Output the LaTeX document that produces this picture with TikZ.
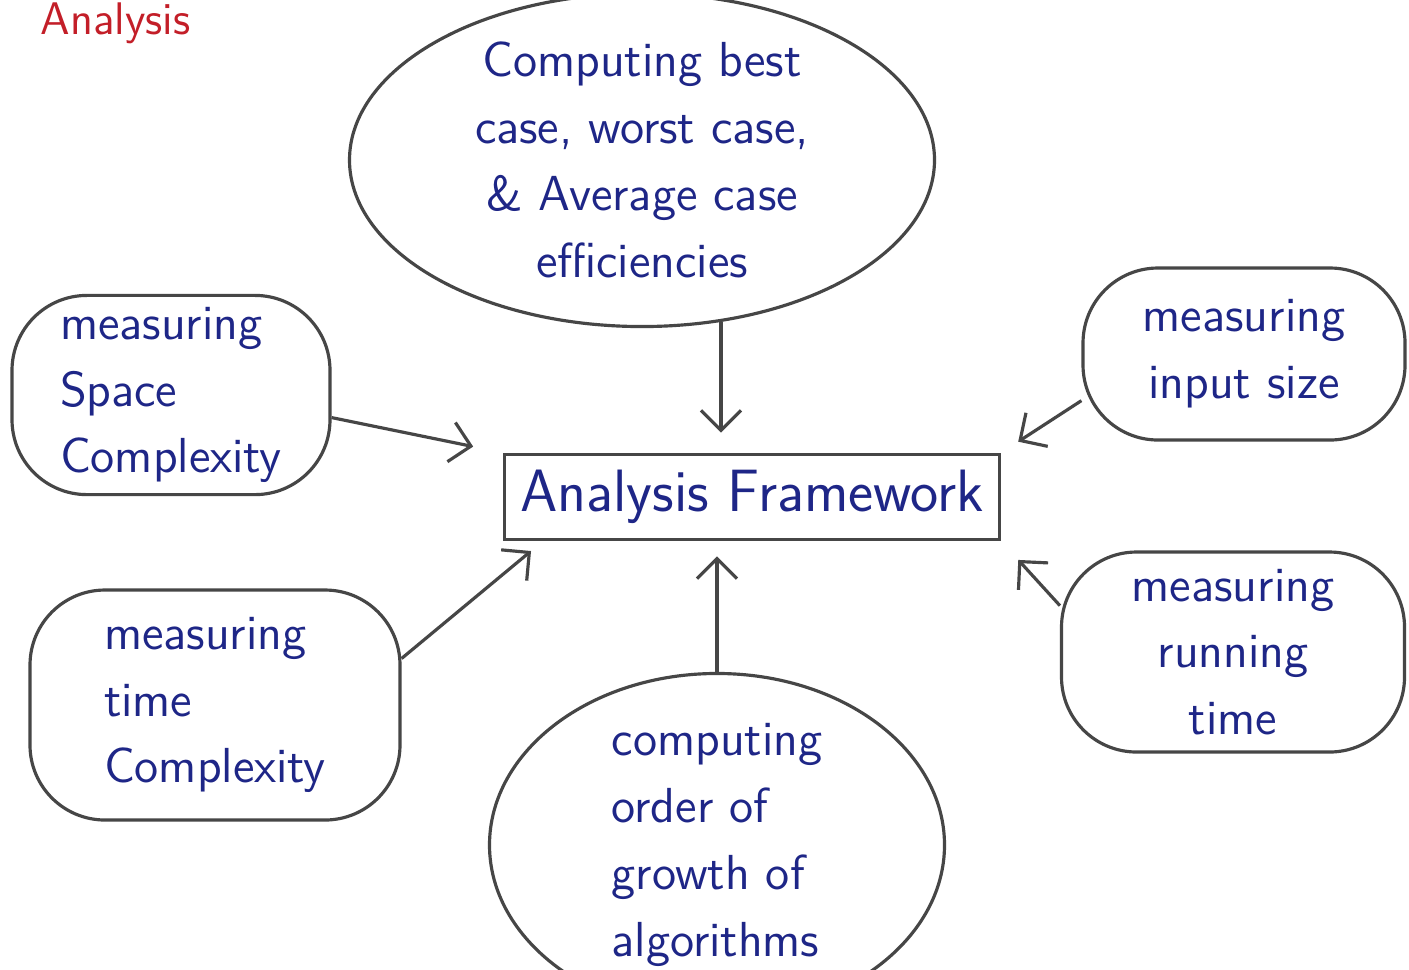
\documentclass[tikz,border=0pt]{standalone}
\usetikzlibrary{arrows.meta,shapes.geometric}

\definecolor{ink}{RGB}{30,38,135}
\definecolor{pencil}{RGB}{70,70,70}
\definecolor{redink}{RGB}{195,30,40}

\tikzset{
    bubble/.style={draw=pencil, line width=0.9pt, text=ink, align=center,
      font=\sffamily\fontsize{14}{19}\selectfont},
    blob/.style={bubble, rectangle, rounded corners=0.75cm},
    oval/.style={bubble, ellipse, inner sep=0pt},
    framebox/.style={draw=pencil, line width=1.1pt, text=ink,
      minimum width=4.95cm, minimum height=0.85cm,
      font=\sffamily\fontsize{17}{20}\selectfont},
    flow/.style={draw=pencil, line width=0.9pt,
      -{Straight Barb[length=2mm,width=4mm]}}
}

\begin{document}
\begin{tikzpicture}

    % Fix page size
    \useasboundingbox (0, 0) rectangle (14.09, -9.69);
    \clip (0, 0) rectangle (14.09, -9.69);
    \fill[white] (0, 0) rectangle (14.09, -9.69);

    % Title in the corner
    \node[anchor=base west, text=redink, inner sep=0pt,
      font=\sffamily\fontsize{13}{13}\selectfont] (title) at (0.4, -0.34) {Analysis};

    % Centre box
    \node[framebox] (frame) at (7.52, -4.97) {Analysis Framework};

    % Bubbles round it
    \node[oval, minimum width=5.85cm, minimum height=2.9cm] (cases)
      at (6.42, -1.6) {Computing best\\case, worst case,\\\& Average case\\efficiencies};
    \node[blob, align=left, minimum width=3.18cm, minimum height=1.8cm] (space)
      at (1.71, -3.95) {measuring\\Space\\Complexity};
    \node[blob, minimum width=3.22cm, minimum height=1.72cm] (input)
      at (12.44, -3.54) {measuring\\input size};
    \node[blob, align=left, minimum width=3.7cm, minimum height=2.3cm] (time)
      at (2.15, -7.05) {measuring\\time\\Complexity};
    \node[blob, minimum width=3.43cm, minimum height=2cm] (running)
      at (12.33, -6.52) {measuring\\running\\time};
    \node[oval, align=left, minimum width=4.55cm, minimum height=2.9cm] (order)
      at (7.17, -8.45) {computing\\order of\\growth of\\algorithms};

    % Arrows into the centre box
    \draw[flow, shorten >=2mm] (cases.-64) -- (cases.-64 |- frame.north);
    \draw[flow, shorten >=3mm] (space.-8) -- (frame.north west);
    \draw[flow, shorten >=2mm] (input.196) -- (frame.north east);
    \draw[flow, shorten >=1.5mm] (time.14) -- ([xshift=4mm]frame.south west);
    \draw[flow, shorten >=1.5mm] (order.north) -- (order.north |- frame.south);
    \draw[flow, shorten >=2.5mm] (running.165) -- (frame.south east);

\end{tikzpicture}
\end{document}
